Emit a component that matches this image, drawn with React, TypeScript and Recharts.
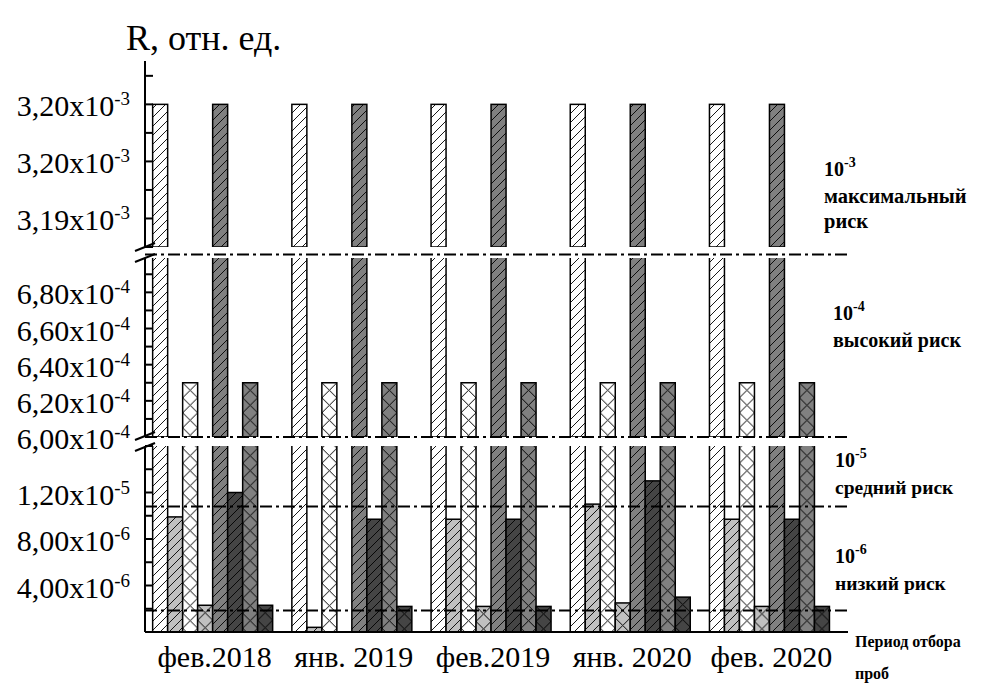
import { BarChart, Bar, XAxis, YAxis, ReferenceLine } from "recharts";

const serif = "Liberation Serif";
const serifStyle = { fontFamily: serif };

const categories = ["фев.2018", "янв. 2019", "фев.2019", "янв. 2020", "фев. 2020"];

// risk values, rel. units (8 bars per sampling period)
const whiteSlash = [3.2e-3, 3.2e-3, 3.2e-3, 3.2e-3, 3.2e-3];
const lightSlash = [9.9e-6, 0.4e-6, 9.7e-6, 1.1e-5, 9.7e-6];
const whiteCross = [6.3e-4, 6.3e-4, 6.3e-4, 6.3e-4, 6.3e-4];
const lightCross = [2.3e-6, 0, 2.2e-6, 2.5e-6, 2.2e-6];
const greySlash = [3.2e-3, 3.2e-3, 3.2e-3, 3.2e-3, 3.2e-3];
const darkSlash = [1.2e-5, 9.7e-6, 9.7e-6, 1.3e-5, 9.7e-6];
const greyCross = [6.3e-4, 6.3e-4, 6.3e-4, 6.3e-4, 6.3e-4];
const darkCross = [2.3e-6, 2.2e-6, 2.2e-6, 3.0e-6, 2.2e-6];

// risk level lines
const breakUpper = 7.01e-4;
const breakLower = 6.0e-4;
const levelMedium = 1.08e-5;
const levelLow = 1.85e-6;

// broken y axis: three panels
const topDomain = [3.1875e-3, 3.2038e-3];
const topTicks = [3.1875e-3, 3.19e-3, 3.1925e-3, 3.195e-3, 3.1975e-3, 3.2e-3, 3.2025e-3];
const topTickLabels = ["", "3,19x10", "", "3,20x10", "", "3,20x10", ""];
const topTickExps = ["", "-3", "", "-3", "", "-3", ""];

const midDomain = [6.0e-4, 6.99e-4];
const midTicks = [6.0e-4, 6.1e-4, 6.2e-4, 6.3e-4, 6.4e-4, 6.5e-4, 6.6e-4, 6.7e-4, 6.8e-4, 6.9e-4];
const midTickLabels = ["6,00x10", "", "6,20x10", "", "6,40x10", "", "6,60x10", "", "6,80x10", ""];
const midTickExps = ["-4", "", "-4", "", "-4", "", "-4", "", "-4", ""];

const lowDomain = [0, 1.6e-5];
const lowTicks = [2e-6, 4e-6, 6e-6, 8e-6, 1e-5, 1.2e-5, 1.4e-5, 1.6e-5];
const lowTickLabels = ["", "4,00x10", "", "8,00x10", "", "1,20x10", "", ""];
const lowTickExps = ["", "-6", "", "-6", "", "-5", "", ""];

const series = [
    { key: "whiteSlash", values: whiteSlash, fill: "#ffffff", kind: "slash" },
    { key: "lightSlash", values: lightSlash, fill: "#c0c0c0", kind: "slash" },
    { key: "whiteCross", values: whiteCross, fill: "#ffffff", kind: "cross" },
    { key: "lightCross", values: lightCross, fill: "#c0c0c0", kind: "cross" },
    { key: "greySlash", values: greySlash, fill: "#808080", kind: "slash" },
    { key: "darkSlash", values: darkSlash, fill: "#454545", kind: "slash" },
    { key: "greyCross", values: greyCross, fill: "#808080", kind: "cross" },
    { key: "darkCross", values: darkCross, fill: "#454545", kind: "cross" },
];

const W = 984;
const H = 683;
const PLOT_LEFT = 145;
const PLOT_RIGHT = 848;

function rowsFor(min: number) {
    return categories.map((c, i) => {
        const row: any = { category: c };
        series.forEach((s) => {
            const v = s.values[i];
            row[s.key] = v < min ? null : v;
        });
        return row;
    });
}

function hatchShape(kind: string, base: string, tag: string) {
    return (p: any) => {
        const { x, y, width, height, index } = p;
        if (!height || height <= 0 || !width) return <g />;
        const id = `${tag}-${index}`;
        return (
            <g>
                <defs>
                    {kind === "cross" ? (
                        <pattern id={id} patternUnits="userSpaceOnUse" x={x} y={y} width={width} height={width}>
                            <path d={`M0,0L${width},${width}M${width},0L0,${width}`} stroke="#000" strokeWidth={1} />
                        </pattern>
                    ) : (
                        <pattern id={id} patternUnits="userSpaceOnUse" width={9} height={9}>
                            <path d="M-2,2L2,-2M0,9L9,0M7,11L11,7" stroke="#000" strokeWidth={0.9} />
                        </pattern>
                    )}
                </defs>
                <rect x={x} y={y} width={width} height={height} fill={base} />
                <rect x={x} y={y} width={width} height={height} fill={`url(#${id})`} />
                <rect x={x} y={y} width={width} height={height} fill="none" stroke="#000" strokeWidth={1.5} />
            </g>
        );
    };
}

function YTick(props: any) {
    const { x, y, index, labels, exps } = props;
    const label = labels[index];
    return (
        <g>
            <line x1={x} x2={x + 8} y1={y} y2={y} stroke="#000" strokeWidth={2} />
            {label ? (
                <text className="serif" x={x - 15} y={y + 12} textAnchor="end" fontSize={30} style={serifStyle} fill="#000">
                    {label}
                    <tspan dy={-11} fontSize={19}>{exps[index]}</tspan>
                </text>
            ) : null}
        </g>
    );
}

function XTick(props: any) {
    const { x, y, payload } = props;
    return (
        <text className="serif" x={x} y={y + 35} textAnchor="middle" fontSize={30} style={serifStyle} fill="#000">
            {payload.value}
        </text>
    );
}

const dashDot = "12 4 3 4";

const panels = [
    { id: "top", domain: topDomain, ticks: topTicks, labels: topTickLabels, exps: topTickExps, top: 61, bottom: 247, lines: [] as { y: number; visible: boolean }[] },
    { id: "mid", domain: midDomain, ticks: midTicks, labels: midTickLabels, exps: midTickExps, top: 258, bottom: 437, lines: [{ y: breakUpper, visible: true }, { y: breakLower, visible: false }] },
    { id: "low", domain: lowDomain, ticks: lowTicks, labels: lowTickLabels, exps: lowTickExps, top: 446, bottom: 632, lines: [{ y: levelMedium, visible: false }, { y: levelLow, visible: false }] },
];

function Panel({ p }: { p: (typeof panels)[number] }) {
    const isLow = p.id === "low";
    const xH = 40;
    const data = rowsFor(p.domain[0]);
    return (
        <div style={{ position: "absolute", left: 0, top: 0 }}>
            <BarChart
                width={W}
                height={H}
                data={data}
                margin={{ top: p.top, bottom: isLow ? H - p.bottom - xH : H - p.bottom, left: PLOT_LEFT - 1, right: W - PLOT_RIGHT }}
                barCategoryGap="5.5%"
                barGap={0}
            >
                <XAxis
                    dataKey="category"
                    hide={!isLow}
                    height={xH}
                    padding={{ left: 0, right: 7 }}
                    axisLine={{ stroke: "#000", strokeWidth: 2 }}
                    tickLine={false}
                    tickSize={0}
                    tickMargin={0}
                    interval={0}
                    tick={<XTick />}
                />
                <YAxis
                    type="number"
                    width={1}
                    domain={p.domain}
                    ticks={p.ticks}
                    interval={0}
                    allowDataOverflow
                    axisLine={{ stroke: "#000", strokeWidth: 2 }}
                    tickLine={false}
                    tickSize={0}
                    tickMargin={0}
                    tick={(t: any) => <YTick {...t} labels={p.labels} exps={p.exps} />}
                />
                {series.map((s) => (
                    <Bar
                        key={s.key}
                        dataKey={s.key}
                        fill={s.fill}
                        isAnimationActive={false}
                        shape={hatchShape(s.kind, s.fill, `${p.id}-${s.key}`)}
                    />
                ))}
                {p.lines.map((l, i) => (
                    <ReferenceLine
                        key={i}
                        y={l.y}
                        stroke="#000"
                        strokeWidth={2}
                        strokeDasharray={dashDot}
                        ifOverflow={l.visible ? "visible" : "extendDomain"}
                    />
                ))}
            </BarChart>
        </div>
    );
}

function BreakMark({ y }: { y: number }) {
    return (
        <g stroke="#000" strokeWidth={2}>
            <line x1={PLOT_LEFT - 10} y1={y - 1} x2={PLOT_LEFT + 10} y2={y - 9} />
            <line x1={PLOT_LEFT - 10} y1={y + 10} x2={PLOT_LEFT + 10} y2={y + 2} />
        </g>
    );
}

function RiskLabel({ x, y, exp, lines, size }: { x: number; y: number; exp: string; lines: string[]; size: number }) {
    const bold = { fontFamily: serif, fontWeight: 700 };
    return (
        <g fill="#000">
            <text className="serif" x={x} y={y} fontSize={20} style={bold}>
                10<tspan dy={-9} fontSize={14}>{exp}</tspan>
            </text>
            {lines.map((t, i) => (
                <text className="serif" key={t} x={x} y={y + 27 + i * 25} fontSize={size} style={bold}>{t}</text>
            ))}
        </g>
    );
}

export default function App() {
    return (
        <div style={{ position: "absolute", left: 0, top: 0, width: W, height: H, background: "#fff", overflow: "hidden", fontFamily: serif }}>
            <style>{`.serif, .serif tspan { font-family: "Liberation Serif", serif !important; }`}</style>
            {panels.map((p) => (
                <Panel key={p.id} p={p} />
            ))}
            <svg width={W} height={H} style={{ position: "absolute", left: 0, top: 0, pointerEvents: "none" }}>
                <text className="serif" x={126} y={50} fontSize={36} style={serifStyle} fill="#000">R, отн. ед.</text>
                <BreakMark y={252} />
                <BreakMark y={441} />

                <RiskLabel x={824} y={176} exp="-3" lines={["максимальный", "риск"]} size={20.5} />
                <RiskLabel x={833} y={320} exp="-4" lines={["высокий риск"]} size={20} />
                <RiskLabel x={835} y={467} exp="-5" lines={["средний риск"]} size={19.5} />
                <RiskLabel x={835} y={563} exp="-6" lines={["низкий риск"]} size={19.5} />

                <text className="serif" x={855} y={647} fontSize={16} style={{ fontFamily: serif, fontWeight: 700 }} fill="#000">Период отбора</text>
                <text className="serif" x={855} y={679} fontSize={16} style={{ fontFamily: serif, fontWeight: 700 }} fill="#000">проб</text>
            </svg>
        </div>
    );
}
